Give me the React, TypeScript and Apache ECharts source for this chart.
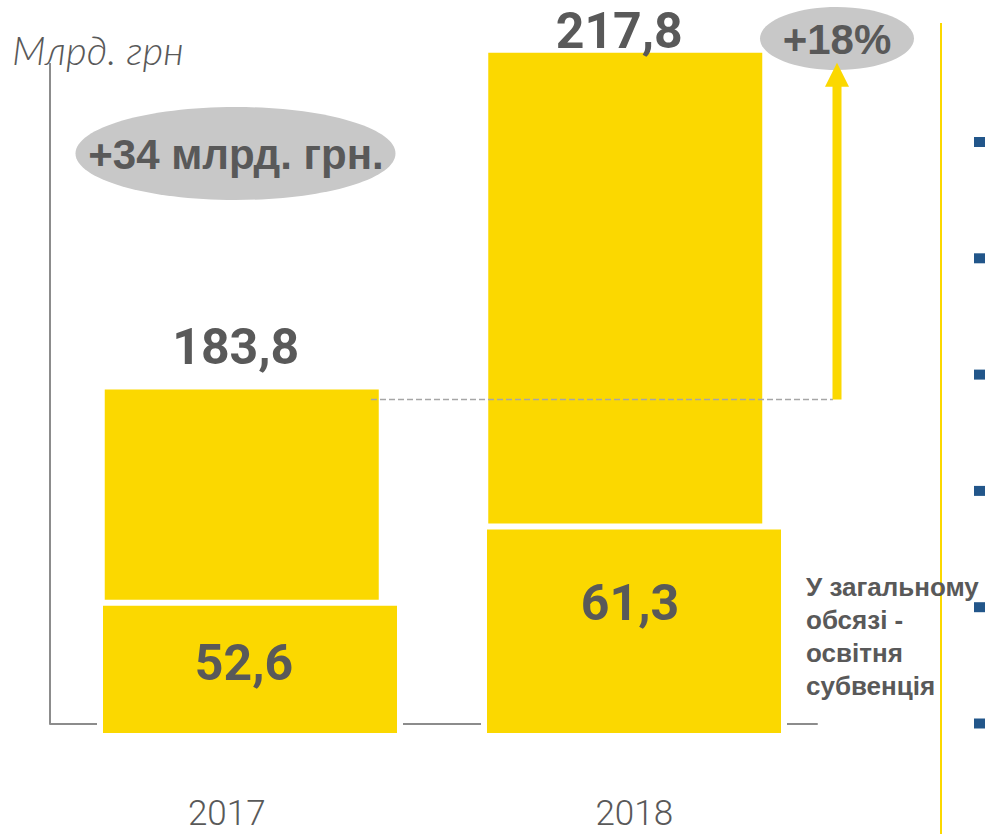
import React, { useEffect, useRef } from "react";
import * as echarts from "echarts";

// ---- data ----
const categories = ["2017", "2018"];
const totalBudget = [183.8, 217.8]; // загальний обсяг, млрд. грн
const educationSubvention = [52.6, 61.3]; // у загальному обсязі - освітня субвенція
const unitLabel = "Млрд. грн";
const absIncreaseLabel = "+34 млрд. грн.";
const pctIncreaseLabel = "+18%";
const noteLines = ["У загальному", "обсязі -", "освітня", "субвенція"];

// ---- styles ----
const YELLOW = "#FBD800";
const TEXT = "#595959";
const AXIS = "#8c8c8c";
const OVAL = "#c8c8c8";
const NUMFONT = 'Roboto, "Liberation Sans", sans-serif';
const SANS = '"Liberation Sans", Arial, sans-serif';

const fmt = (v: number) => v.toFixed(1).replace(".", ",");

export default function App() {
  const ref = useRef<HTMLDivElement>(null);

  useEffect(() => {
    if (!ref.current) return;
    const chart = echarts.init(ref.current, null, { renderer: "svg" });

    const totalLabelShift = [[-6, -10], [-6, 10]];
    const subLabelShift = [[-6, -6], [-4, -28]];

    const option: any = {
      animation: false,
      backgroundColor: "#ffffff",
      grid: [
        { left: 50, right: 168, top: 31, bottom: 110 },
        { left: 58, right: 159, top: 98, bottom: 98 },
      ],
      xAxis: [
        {
          gridIndex: 0,
          type: "category",
          data: categories,
          axisLine: { show: true, lineStyle: { color: AXIS, width: 2 } },
          axisTick: { show: false },
          splitLine: { show: false },
          axisLabel: {
            margin: 74,
            formatter: (v: string, i: number) => (i === 0 ? `{a|${v}}` : `{b|${v}}`),
            rich: {
              a: { fontSize: 35, lineHeight: 30, fontWeight: 300, fontFamily: NUMFONT, color: TEXT, padding: [0, 30, 0, 0] },
              b: { fontSize: 35, lineHeight: 30, fontWeight: 300, fontFamily: NUMFONT, color: TEXT, padding: [0, 0, 0, 18] },
            },
          },
        },
        { gridIndex: 1, type: "category", data: categories, show: false },
      ],
      yAxis: [
        { gridIndex: 0, type: "value", min: 150, max: 220, show: false, splitLine: { show: false } },
        { gridIndex: 1, type: "value", min: 37, max: 110, show: false, splitLine: { show: false } },
      ],
      series: [
        {
          type: "bar",
          name: "Загальний обсяг",
          xAxisIndex: 0,
          yAxisIndex: 0,
          barWidth: 274,
          z: 2,
          itemStyle: { color: YELLOW },
          data: totalBudget.map((v, i) => ({ value: v, label: { offset: totalLabelShift[i] } })),
          label: {
            show: true,
            position: "top",
            distance: 5,
            formatter: (p: any) => fmt(p.value),
            fontSize: 50,
            lineHeight: 54,
            fontWeight: "bold",
            fontFamily: NUMFONT,
            color: TEXT,
          },
        },
        {
          type: "bar",
          name: "Освітня субвенція",
          xAxisIndex: 1,
          yAxisIndex: 1,
          barWidth: 306,
          z: 3,
          itemStyle: { color: YELLOW, borderColor: "#ffffff", borderWidth: 6 },
          data: educationSubvention.map((v, i) => ({ value: v, label: { offset: subLabelShift[i] } })),
          label: {
            show: true,
            position: "inside",
            formatter: (p: any) => fmt(p.value),
            fontSize: 50,
            lineHeight: 54,
            fontWeight: "bold",
            fontFamily: NUMFONT,
            color: TEXT,
          },
        },
      ],
    };

    chart.setOption(option);

    const yPrev = chart.convertToPixel({ yAxisIndex: 0 }, totalBudget[0]) as number;
    const yCurr = chart.convertToPixel({ yAxisIndex: 0 }, totalBudget[1]) as number;
    const yBase = chart.convertToPixel({ yAxisIndex: 0 }, 150) as number;

    const arrowX = 837;
    const dashY = yPrev + 10;
    const tipY = yCurr + 10;

    const bullets: any[] = [];
    for (let k = 0; k < 7; k++) {
      bullets.push({
        type: "rect",
        z: 100,
        shape: { x: 974, y: 137 + k * 116.3, width: 12, height: 10 },
        style: { fill: "#22568a" },
      });
    }

    const graphic: any[] = [
      {
        type: "text",
        z: 100,
        style: {
          text: unitLabel,
          x: 12,
          y: 50,
          fill: TEXT,
          fontSize: 40,
          fontStyle: "italic",
          fontWeight: 300,
          fontFamily: "Lato, 'Open Sans', sans-serif",
          verticalAlign: "middle",
        },
      },
      {
        type: "line",
        z: 100,
        shape: { x1: 50, y1: 63, x2: 50, y2: yBase },
        style: { stroke: AXIS, lineWidth: 2 },
      },
      {
        type: "ellipse",
        z: 100,
        shape: { cx: 235.5, cy: 153.5, rx: 160, ry: 46.5 },
        style: { fill: OVAL },
      },
      {
        type: "text",
        z: 101,
        style: {
          text: absIncreaseLabel,
          x: 236,
          y: 154,
          fill: TEXT,
          fontSize: 42,
          fontWeight: "bold",
          fontFamily: SANS,
          align: "center",
          verticalAlign: "middle",
        },
      },
      {
        type: "ellipse",
        z: 100,
        shape: { cx: 837, cy: 38.5, rx: 77, ry: 31.5 },
        style: { fill: OVAL },
      },
      {
        type: "text",
        z: 101,
        style: {
          text: pctIncreaseLabel,
          x: 837,
          y: 39,
          fill: TEXT,
          fontSize: 42,
          fontWeight: "bold",
          fontFamily: SANS,
          align: "center",
          verticalAlign: "middle",
        },
      },
      {
        type: "line",
        z: 100,
        shape: { x1: 371, y1: dashY, x2: arrowX - 4, y2: dashY },
        style: { stroke: "#a6a6a6", lineWidth: 1.5, lineDash: [6, 3] },
      },
      {
        type: "rect",
        z: 100,
        shape: { x: arrowX - 4.5, y: tipY + 22, width: 9, height: dashY - tipY - 22 },
        style: { fill: YELLOW },
      },
      {
        type: "polygon",
        z: 100,
        shape: { points: [[arrowX, tipY], [arrowX - 12, tipY + 24], [arrowX + 12, tipY + 24]] },
        style: { fill: YELLOW },
      },
      {
        type: "line",
        z: 99,
        shape: { x1: 941, y1: 23, x2: 941, y2: 834 },
        style: { stroke: YELLOW, lineWidth: 2 },
      },
      ...bullets,
      {
        type: "text",
        z: 102,
        style: {
          text: noteLines.join("\n"),
          x: 806,
          y: 570,
          fill: TEXT,
          fontSize: 26,
          lineHeight: 33,
          fontWeight: "bold",
          fontFamily: SANS,
          verticalAlign: "top",
        },
      },
    ];

    chart.setOption({ graphic });

    return () => chart.dispose();
  }, []);

  return (
    <div
      ref={ref}
      style={{ position: "absolute", left: 0, top: 0, width: 985, height: 834, background: "#fff" }}
    />
  );
}
